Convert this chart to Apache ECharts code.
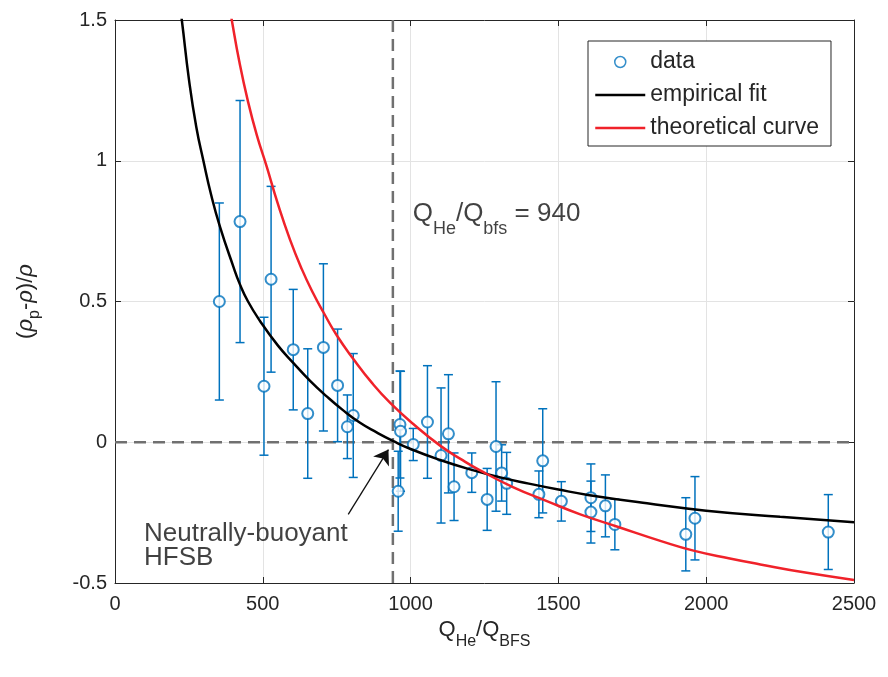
<!DOCTYPE html>
<html><head><meta charset="utf-8">
<script src="https://cdn.jsdelivr.net/npm/echarts@6/dist/echarts.min.js"></script>
<style>html,body{margin:0;padding:0;background:#fff}#c{width:888px;height:677px}</style>
</head><body><div id="c"></div>
<script>
// ---- data ----
const dataX   = [353, 423, 504, 528, 603, 652, 705, 753, 786, 806, 958, 964, 966, 1009, 1057, 1103, 1128, 1147, 1207, 1259, 1289, 1308, 1325, 1434, 1447, 1510, 1610, 1610, 1659, 1691, 1931, 1962, 2413];
const dataY   = [0.50, 0.784, 0.199, 0.579, 0.329, 0.102, 0.337, 0.202, 0.055, 0.095, -0.174, 0.063, 0.039, -0.008, 0.072, -0.047, 0.030, -0.158, -0.108, -0.203, -0.015, -0.109, -0.146, -0.185, -0.066, -0.210, -0.197, -0.248, -0.226, -0.292, -0.327, -0.270, -0.319];
const dataErr = [0.35, 0.43, 0.245, 0.33, 0.214, 0.23, 0.297, 0.20, 0.113, 0.22, 0.142, 0.19, 0.213, 0.057, 0.20, 0.24, 0.21, 0.12, 0.07, 0.11, 0.23, 0.10, 0.11, 0.083, 0.185, 0.07, 0.12, 0.11, 0.11, 0.09, 0.13, 0.148, 0.133];

const fitX = [210, 226, 250, 275, 299, 325, 355, 400, 423, 450, 491, 550, 603, 660, 716, 770, 829, 885, 940, 1000, 1100, 1200, 1300, 1400, 1500, 1600, 1800, 2000, 2250, 2500];
const fitY = [1.62, 1.50, 1.29, 1.12, 1.00, 0.88, 0.766, 0.625, 0.56, 0.50, 0.43, 0.345, 0.282, 0.218, 0.163, 0.115, 0.069, 0.035, 0.005, -0.024, -0.063, -0.096, -0.124, -0.147, -0.168, -0.187, -0.217, -0.243, -0.265, -0.284];

const theoX = [380, 395, 420, 450, 480, 513, 550, 592, 632, 670, 706, 750, 807, 870, 931, 1009, 1100, 1170, 1235, 1348, 1461, 1574, 1700, 1850, 1957, 2080, 2183, 2330, 2500];
const theoY = [1.59, 1.50, 1.355, 1.21, 1.09, 0.98, 0.85, 0.72, 0.615, 0.53, 0.46, 0.38, 0.295, 0.21, 0.14, 0.065, -0.012, -0.06, -0.10, -0.16, -0.209, -0.256, -0.30, -0.352, -0.385, -0.413, -0.434, -0.462, -0.489];

const neutralRatio = 940;
const xMin = 0, xMax = 2500, xStep = 500;
const yMin = -0.5, yMax = 1.5, yStep = 0.5;

// annotation anchor points (data coordinates)
const ratioLabelAt = [1007, 0.856];
const neutralLabelAt = [98, -0.282];
const arrowFrom = [789, -0.256];
const arrowTo = [925, -0.026];

// ---- chart ----
const FONT = 'Liberation Sans, Arial, sans-serif';
const TXT = '#262626';
const BLUE = '#0072BD';
const chart = echarts.init(document.getElementById('c'));

function errorBar(params, api) {
  const x = api.value(0), lo = api.value(1), hi = api.value(2);
  const a = api.coord([x, lo]), b = api.coord([x, hi]);
  const w = 4.5;
  const st = { stroke: BLUE, lineWidth: 1.5 };
  return { type: 'group', children: [
    { type: 'line', shape: { x1: a[0], y1: a[1], x2: b[0], y2: b[1] }, style: st },
    { type: 'line', shape: { x1: a[0] - w, y1: a[1], x2: a[0] + w, y2: a[1] }, style: st },
    { type: 'line', shape: { x1: b[0] - w, y1: b[1], x2: b[0] + w, y2: b[1] }, style: st }
  ]};
}

const mainTok = { fontSize: 26, verticalAlign: 'top', color: '#111', fontFamily: FONT };
const subTok = { fontSize: 18, padding: [19, 0, 0, 0], verticalAlign: 'top', color: '#111', fontFamily: FONT };

const axisCommon = {
  axisLine: { show: true, onZero: false, lineStyle: { color: TXT, width: 1 } },
  axisTick: { show: true, inside: true, length: 6, lineStyle: { color: TXT } }
};
const plainNum = v => String(v);

const option = {
  animation: false,
  backgroundColor: '#fff',
  grid: { left: 115, right: 34, top: 20, bottom: 94, show: false },
  legend: {
    orient: 'vertical',
    left: 588, top: 41,
    padding: [9, 12, 6, 6],
    itemGap: 9,
    itemWidth: 50, itemHeight: 11,
    backgroundColor: '#fff',
    borderColor: '#262626', borderWidth: 1,
    lineStyle: { width: 2.5 },
    textStyle: { fontSize: 23, color: TXT, fontFamily: FONT, lineHeight: 24 },
    data: [
      { name: 'data', icon: 'circle', itemStyle: { color: '#fff', borderColor: BLUE, borderWidth: 1.5 } },
      { name: 'empirical fit', itemStyle: { opacity: 0 } },
      { name: 'theoretical curve', itemStyle: { opacity: 0 } }
    ]
  },
  xAxis: [
    Object.assign({
      type: 'value', min: xMin, max: xMax, interval: xStep, position: 'bottom',
      axisLabel: { fontSize: 20, color: TXT, fontFamily: FONT, margin: 11, formatter: plainNum },
      splitLine: { show: true, lineStyle: { color: '#e3e3e3', width: 1 } },
      name: '{m|Q}{s|He}{m|/Q}{s|BFS}',
      nameLocation: 'middle', nameGap: 30,
      nameTextStyle: { rich: {
        m: { fontSize: 22, verticalAlign: 'top', color: TXT, fontFamily: FONT },
        s: { fontSize: 16, padding: [15, 0, 0, 0], verticalAlign: 'top', color: TXT, fontFamily: FONT }
      } }
    }, axisCommon),
    Object.assign({
      type: 'value', min: xMin, max: xMax, interval: xStep, position: 'top',
      axisLabel: { show: false }, splitLine: { show: false }
    }, axisCommon)
  ],
  yAxis: [
    Object.assign({
      type: 'value', min: yMin, max: yMax, interval: yStep, position: 'left',
      axisLabel: { fontSize: 20, color: TXT, fontFamily: FONT, margin: 8, formatter: plainNum },
      splitLine: { show: true, lineStyle: { color: '#e3e3e3', width: 1 } },
      name: '{m|(}{r|ρ}{s|p}{m|-}{r|ρ}{m|)/}{r|ρ}',
      nameLocation: 'middle', nameGap: 72, nameRotate: 90,
      nameTextStyle: { rich: {
        m: { fontSize: 22, verticalAlign: 'top', color: TXT, fontFamily: FONT },
        r: { fontSize: 22, verticalAlign: 'top', color: TXT, fontFamily: FONT, fontStyle: 'italic' },
        s: { fontSize: 16, padding: [12, 0, 0, 0], verticalAlign: 'top', color: TXT, fontFamily: FONT }
      } }
    }, axisCommon),
    Object.assign({
      type: 'value', min: yMin, max: yMax, interval: yStep, position: 'right',
      axisLabel: { show: false }, splitLine: { show: false }
    }, axisCommon)
  ],
  series: [
    {
      name: 'zero', type: 'line', silent: true, symbol: 'none', z: 2,
      data: [[xMin, 0], [xMax, 0]],
      lineStyle: { color: '#707070', width: 2.5, type: [12, 7] }
    },
    {
      name: 'neutral', type: 'line', silent: true, symbol: 'none', z: 2,
      data: [[neutralRatio, yMin], [neutralRatio, yMax]],
      lineStyle: { color: '#707070', width: 2.5, type: [12, 7] }
    },
    {
      name: 'errorbars', type: 'custom', renderItem: errorBar, z: 3,
      encode: { x: 0, y: [1, 2] },
      data: dataX.map((x, i) => [x, dataY[i] - dataErr[i], dataY[i] + dataErr[i]])
    },
    {
      name: 'data', type: 'scatter', symbol: 'emptyCircle', symbolSize: 11, z: 4,
      itemStyle: { color: BLUE, borderColor: BLUE, borderWidth: 1.5 },
      data: dataX.map((x, i) => [x, dataY[i]])
    },
    {
      name: 'empirical fit', type: 'line', symbol: 'none', smooth: 0.5, clip: true, z: 5,
      color: '#000', lineStyle: { color: '#000', width: 2.5 },
      data: fitX.map((x, i) => [x, fitY[i]])
    },
    {
      name: 'theoretical curve', type: 'line', symbol: 'none', smooth: 0.5, clip: true, z: 5,
      color: '#f0222a', lineStyle: { color: '#f0222a', width: 2.5 },
      data: theoX.map((x, i) => [x, theoY[i]])
    },
    {
      name: 'annotations', type: 'scatter', symbolSize: 0, silent: true, z: 6,
      data: [
        { value: ratioLabelAt, label: { show: true, position: [0, 0], align: 'left', verticalAlign: 'top',
          formatter: '{m|Q}{s|He}{m|/Q}{s|bfs}{m| = ' + neutralRatio + '}', rich: { m: mainTok, s: subTok } } },
        { value: neutralLabelAt, label: { show: true, position: [0, 0], align: 'left', verticalAlign: 'top',
          formatter: 'Neutrally-buoyant\nHFSB', fontSize: 26, lineHeight: 24, color: '#111', fontFamily: FONT } }
      ],
      markLine: {
        silent: true, symbol: ['none', 'arrow'], symbolSize: 14,
        label: { show: false },
        lineStyle: { color: '#111', width: 1.3, type: 'solid' },
        data: [[{ coord: arrowFrom }, { coord: arrowTo }]]
      }
    }
  ]
};
chart.setOption(option);
</script>
</body></html>
